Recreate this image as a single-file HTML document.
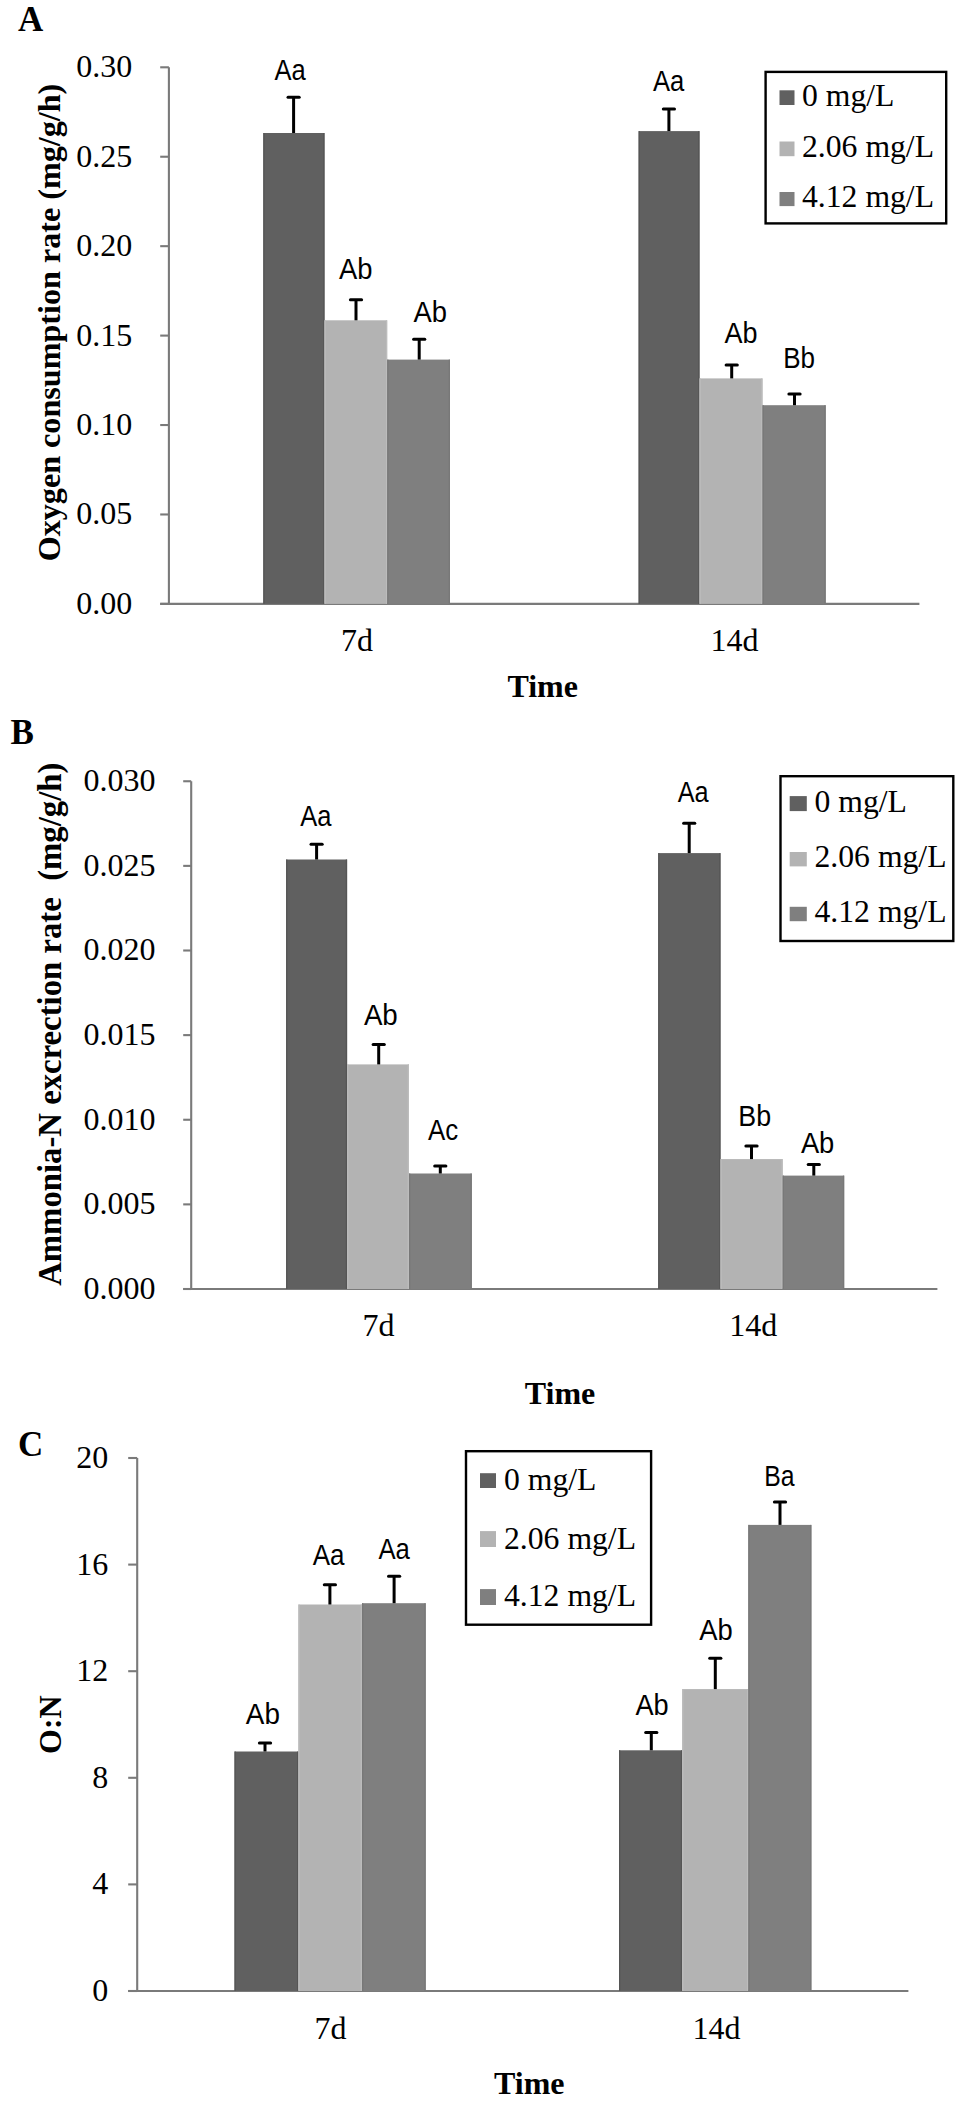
<!DOCTYPE html>
<html><head><meta charset="utf-8"><title>Figure</title>
<style>
html,body{margin:0;padding:0;background:#fff;width:968px;height:2107px;overflow:hidden}
svg{display:block}
.tk{font-family:'Liberation Serif',serif;font-size:32px;fill:#000}
.lg{font-family:'Liberation Serif',serif;font-size:31.7px;fill:#000}
.pl{font-family:'Liberation Serif',serif;font-size:35px;font-weight:bold;fill:#000}
.bd{font-family:'Liberation Serif',serif;font-size:32px;font-weight:bold;fill:#000}
.lt{font-family:'Liberation Sans',sans-serif;font-size:29.5px;fill:#000}
</style></head>
<body>
<svg width="968" height="2107" viewBox="0 0 968 2107">
<rect width="968" height="2107" fill="#fff"/>
<line x1="168.9" y1="67.3" x2="168.9" y2="603.9" stroke="#7a7a7a" stroke-width="2.1"/>
<line x1="160.2" y1="67.30" x2="168.9" y2="67.30" stroke="#7a7a7a" stroke-width="2.1"/>
<text x="132.3" y="77.20" text-anchor="end" class="tk">0.30</text>
<line x1="160.2" y1="156.73" x2="168.9" y2="156.73" stroke="#7a7a7a" stroke-width="2.1"/>
<text x="132.3" y="166.63" text-anchor="end" class="tk">0.25</text>
<line x1="160.2" y1="246.17" x2="168.9" y2="246.17" stroke="#7a7a7a" stroke-width="2.1"/>
<text x="132.3" y="256.07" text-anchor="end" class="tk">0.20</text>
<line x1="160.2" y1="335.60" x2="168.9" y2="335.60" stroke="#7a7a7a" stroke-width="2.1"/>
<text x="132.3" y="345.50" text-anchor="end" class="tk">0.15</text>
<line x1="160.2" y1="425.03" x2="168.9" y2="425.03" stroke="#7a7a7a" stroke-width="2.1"/>
<text x="132.3" y="434.93" text-anchor="end" class="tk">0.10</text>
<line x1="160.2" y1="514.47" x2="168.9" y2="514.47" stroke="#7a7a7a" stroke-width="2.1"/>
<text x="132.3" y="524.37" text-anchor="end" class="tk">0.05</text>
<line x1="160.2" y1="603.90" x2="168.9" y2="603.90" stroke="#7a7a7a" stroke-width="2.1"/>
<text x="132.3" y="613.80" text-anchor="end" class="tk">0.00</text>
<line x1="160.2" y1="603.9" x2="919.4" y2="603.9" stroke="#7a7a7a" stroke-width="2.1"/>
<rect x="263.3" y="133" width="61.20" height="470.90" fill="#606060"/>
<rect x="263.3" y="133" width="1.3" height="470.90" fill="#555555"/>
<rect x="323.20" y="133" width="1.3" height="470.90" fill="#555555"/>
<rect x="324.5" y="320.3" width="62.70" height="283.60" fill="#b3b3b3"/>
<rect x="324.5" y="320.3" width="1.3" height="283.60" fill="#bcbcbc"/>
<rect x="385.90" y="320.3" width="1.3" height="283.60" fill="#bcbcbc"/>
<rect x="387.2" y="359.6" width="62.80" height="244.30" fill="#7f7f7f"/>
<rect x="387.2" y="359.6" width="1.3" height="244.30" fill="#787878"/>
<rect x="448.70" y="359.6" width="1.3" height="244.30" fill="#787878"/>
<rect x="638.6" y="131.1" width="60.90" height="472.80" fill="#606060"/>
<rect x="638.6" y="131.1" width="1.3" height="472.80" fill="#555555"/>
<rect x="698.20" y="131.1" width="1.3" height="472.80" fill="#555555"/>
<rect x="699.5" y="378.4" width="63.00" height="225.50" fill="#b3b3b3"/>
<rect x="699.5" y="378.4" width="1.3" height="225.50" fill="#bcbcbc"/>
<rect x="761.20" y="378.4" width="1.3" height="225.50" fill="#bcbcbc"/>
<rect x="762.5" y="405.2" width="63.20" height="198.70" fill="#7f7f7f"/>
<rect x="762.5" y="405.2" width="1.3" height="198.70" fill="#787878"/>
<rect x="824.40" y="405.2" width="1.3" height="198.70" fill="#787878"/>
<line x1="293.6" y1="133" x2="293.6" y2="97.2" stroke="#000" stroke-width="3"/>
<line x1="288.00" y1="97.2" x2="299.20" y2="97.2" stroke="#000" stroke-width="3" stroke-linecap="round"/>
<line x1="356" y1="320.3" x2="356" y2="299.8" stroke="#000" stroke-width="3"/>
<line x1="350.40" y1="299.8" x2="361.60" y2="299.8" stroke="#000" stroke-width="3" stroke-linecap="round"/>
<line x1="419.2" y1="359.6" x2="419.2" y2="339.2" stroke="#000" stroke-width="3"/>
<line x1="413.60" y1="339.2" x2="424.80" y2="339.2" stroke="#000" stroke-width="3" stroke-linecap="round"/>
<line x1="668.9" y1="131.1" x2="668.9" y2="109.10000000000001" stroke="#000" stroke-width="3"/>
<line x1="663.30" y1="109.10000000000001" x2="674.50" y2="109.10000000000001" stroke="#000" stroke-width="3" stroke-linecap="round"/>
<line x1="731.7" y1="378.4" x2="731.7" y2="365.0" stroke="#000" stroke-width="3"/>
<line x1="726.10" y1="365.0" x2="737.30" y2="365.0" stroke="#000" stroke-width="3" stroke-linecap="round"/>
<line x1="794.5" y1="405.2" x2="794.5" y2="393.9" stroke="#000" stroke-width="3"/>
<line x1="788.90" y1="393.9" x2="800.10" y2="393.9" stroke="#000" stroke-width="3" stroke-linecap="round"/>
<text x="274.5" y="80" class="lt" textLength="31.2" lengthAdjust="spacingAndGlyphs">Aa</text>
<text x="339" y="279" class="lt" textLength="33.5" lengthAdjust="spacingAndGlyphs">Ab</text>
<text x="413.4" y="321.8" class="lt" textLength="33.5" lengthAdjust="spacingAndGlyphs">Ab</text>
<text x="653" y="91.1" class="lt" textLength="31.3" lengthAdjust="spacingAndGlyphs">Aa</text>
<text x="724.5" y="342.7" class="lt" textLength="33.0" lengthAdjust="spacingAndGlyphs">Ab</text>
<text x="783.2" y="367.5" class="lt" textLength="31.8" lengthAdjust="spacingAndGlyphs">Bb</text>
<rect x="765.60" y="71.90" width="180.60" height="151.50" fill="none" stroke="#000" stroke-width="2.4"/>
<rect x="779.5" y="90.3" width="15.00" height="14.70" fill="#606060"/>
<text x="802" y="106.3" class="lg">0 mg/L</text>
<rect x="779.5" y="141.5" width="15.00" height="14.70" fill="#b3b3b3"/>
<text x="802" y="157.4" class="lg">2.06 mg/L</text>
<rect x="779.5" y="192" width="15.00" height="14.10" fill="#7f7f7f"/>
<text x="802" y="207.3" class="lg">4.12 mg/L</text>
<text x="357" y="651" text-anchor="middle" class="tk">7d</text>
<text x="734.4" y="651.2" text-anchor="middle" class="tk">14d</text>
<text x="542.7" y="697.2" text-anchor="middle" class="bd">Time</text>
<text transform="translate(60,322.5) rotate(-90)" text-anchor="middle" class="bd" style="white-space:pre;font-size:32.15px">Oxygen consumption rate (mg/g/h)</text>
<text x="18" y="31" class="pl">A</text>
<line x1="191.2" y1="781.25" x2="191.2" y2="1289.0" stroke="#7a7a7a" stroke-width="2.1"/>
<line x1="183.2" y1="781.25" x2="191.2" y2="781.25" stroke="#7a7a7a" stroke-width="2.1"/>
<text x="155.5" y="791.15" text-anchor="end" class="tk">0.030</text>
<line x1="183.2" y1="865.88" x2="191.2" y2="865.88" stroke="#7a7a7a" stroke-width="2.1"/>
<text x="155.5" y="875.77" text-anchor="end" class="tk">0.025</text>
<line x1="183.2" y1="950.50" x2="191.2" y2="950.50" stroke="#7a7a7a" stroke-width="2.1"/>
<text x="155.5" y="960.40" text-anchor="end" class="tk">0.020</text>
<line x1="183.2" y1="1035.12" x2="191.2" y2="1035.12" stroke="#7a7a7a" stroke-width="2.1"/>
<text x="155.5" y="1045.03" text-anchor="end" class="tk">0.015</text>
<line x1="183.2" y1="1119.75" x2="191.2" y2="1119.75" stroke="#7a7a7a" stroke-width="2.1"/>
<text x="155.5" y="1129.65" text-anchor="end" class="tk">0.010</text>
<line x1="183.2" y1="1204.38" x2="191.2" y2="1204.38" stroke="#7a7a7a" stroke-width="2.1"/>
<text x="155.5" y="1214.28" text-anchor="end" class="tk">0.005</text>
<line x1="183.2" y1="1289.00" x2="191.2" y2="1289.00" stroke="#7a7a7a" stroke-width="2.1"/>
<text x="155.5" y="1298.90" text-anchor="end" class="tk">0.000</text>
<line x1="183.2" y1="1289.0" x2="937.4" y2="1289.0" stroke="#7a7a7a" stroke-width="2.1"/>
<rect x="286.1" y="859.5" width="61.00" height="429.50" fill="#606060"/>
<rect x="286.1" y="859.5" width="1.3" height="429.50" fill="#555555"/>
<rect x="345.80" y="859.5" width="1.3" height="429.50" fill="#555555"/>
<rect x="347.1" y="1064.4" width="61.90" height="224.60" fill="#b3b3b3"/>
<rect x="347.1" y="1064.4" width="1.3" height="224.60" fill="#bcbcbc"/>
<rect x="407.70" y="1064.4" width="1.3" height="224.60" fill="#bcbcbc"/>
<rect x="409" y="1173.5" width="62.80" height="115.50" fill="#7f7f7f"/>
<rect x="409" y="1173.5" width="1.3" height="115.50" fill="#787878"/>
<rect x="470.50" y="1173.5" width="1.3" height="115.50" fill="#787878"/>
<rect x="658.2" y="853.1" width="62.30" height="435.90" fill="#606060"/>
<rect x="658.2" y="853.1" width="1.3" height="435.90" fill="#555555"/>
<rect x="719.20" y="853.1" width="1.3" height="435.90" fill="#555555"/>
<rect x="720.5" y="1159.1" width="62.20" height="129.90" fill="#b3b3b3"/>
<rect x="720.5" y="1159.1" width="1.3" height="129.90" fill="#bcbcbc"/>
<rect x="781.40" y="1159.1" width="1.3" height="129.90" fill="#bcbcbc"/>
<rect x="782.7" y="1175.6" width="61.50" height="113.40" fill="#7f7f7f"/>
<rect x="782.7" y="1175.6" width="1.3" height="113.40" fill="#787878"/>
<rect x="842.90" y="1175.6" width="1.3" height="113.40" fill="#787878"/>
<line x1="316.6" y1="859.5" x2="316.6" y2="844.3000000000001" stroke="#000" stroke-width="3"/>
<line x1="311.00" y1="844.3000000000001" x2="322.20" y2="844.3000000000001" stroke="#000" stroke-width="3" stroke-linecap="round"/>
<line x1="378.7" y1="1064.4" x2="378.7" y2="1044.4" stroke="#000" stroke-width="3"/>
<line x1="373.10" y1="1044.4" x2="384.30" y2="1044.4" stroke="#000" stroke-width="3" stroke-linecap="round"/>
<line x1="440.3" y1="1173.5" x2="440.3" y2="1165.9" stroke="#000" stroke-width="3"/>
<line x1="434.70" y1="1165.9" x2="445.90" y2="1165.9" stroke="#000" stroke-width="3" stroke-linecap="round"/>
<line x1="689.2" y1="853.1" x2="689.2" y2="823.3000000000001" stroke="#000" stroke-width="3"/>
<line x1="683.60" y1="823.3000000000001" x2="694.80" y2="823.3000000000001" stroke="#000" stroke-width="3" stroke-linecap="round"/>
<line x1="751.5" y1="1159.1" x2="751.5" y2="1145.9" stroke="#000" stroke-width="3"/>
<line x1="745.90" y1="1145.9" x2="757.10" y2="1145.9" stroke="#000" stroke-width="3" stroke-linecap="round"/>
<line x1="813.8" y1="1175.6" x2="813.8" y2="1164.4" stroke="#000" stroke-width="3"/>
<line x1="808.20" y1="1164.4" x2="819.40" y2="1164.4" stroke="#000" stroke-width="3" stroke-linecap="round"/>
<text x="300.2" y="826.1" class="lt" textLength="31.2" lengthAdjust="spacingAndGlyphs">Aa</text>
<text x="363.9" y="1025.2" class="lt" textLength="33.9" lengthAdjust="spacingAndGlyphs">Ab</text>
<text x="427.9" y="1140.4" class="lt" textLength="30.2" lengthAdjust="spacingAndGlyphs">Ac</text>
<text x="677.7" y="802.2" class="lt" textLength="30.9" lengthAdjust="spacingAndGlyphs">Aa</text>
<text x="738.3" y="1125.5" class="lt" textLength="32.8" lengthAdjust="spacingAndGlyphs">Bb</text>
<text x="800.9" y="1152.6" class="lt" textLength="33.4" lengthAdjust="spacingAndGlyphs">Ab</text>
<rect x="780.50" y="776.20" width="172.80" height="164.80" fill="none" stroke="#000" stroke-width="2.4"/>
<rect x="789.7" y="796.1" width="17.10" height="15.00" fill="#606060"/>
<text x="814.5" y="812" class="lg">0 mg/L</text>
<rect x="789.7" y="852" width="17.10" height="14.40" fill="#b3b3b3"/>
<text x="814.5" y="867" class="lg">2.06 mg/L</text>
<rect x="789.7" y="906.8" width="17.10" height="14.40" fill="#7f7f7f"/>
<text x="814.5" y="921.6" class="lg">4.12 mg/L</text>
<text x="378.5" y="1335.6" text-anchor="middle" class="tk">7d</text>
<text x="753.3" y="1336" text-anchor="middle" class="tk">14d</text>
<text x="560" y="1404" text-anchor="middle" class="bd">Time</text>
<text transform="translate(60.5,1024.2) rotate(-90)" text-anchor="middle" class="bd" style="white-space:pre;font-size:32.75px">Ammonia-N excrection rate  (mg/g/h)</text>
<text x="10.5" y="744" class="pl">B</text>
<line x1="137.2" y1="1458" x2="137.2" y2="1991.0" stroke="#7a7a7a" stroke-width="2.1"/>
<line x1="128.2" y1="1458.00" x2="137.2" y2="1458.00" stroke="#7a7a7a" stroke-width="2.1"/>
<text x="108.3" y="1467.90" text-anchor="end" class="tk">20</text>
<line x1="128.2" y1="1564.60" x2="137.2" y2="1564.60" stroke="#7a7a7a" stroke-width="2.1"/>
<text x="108.3" y="1574.50" text-anchor="end" class="tk">16</text>
<line x1="128.2" y1="1671.20" x2="137.2" y2="1671.20" stroke="#7a7a7a" stroke-width="2.1"/>
<text x="108.3" y="1681.10" text-anchor="end" class="tk">12</text>
<line x1="128.2" y1="1777.80" x2="137.2" y2="1777.80" stroke="#7a7a7a" stroke-width="2.1"/>
<text x="108.3" y="1787.70" text-anchor="end" class="tk">8</text>
<line x1="128.2" y1="1884.40" x2="137.2" y2="1884.40" stroke="#7a7a7a" stroke-width="2.1"/>
<text x="108.3" y="1894.30" text-anchor="end" class="tk">4</text>
<line x1="128.2" y1="1991.00" x2="137.2" y2="1991.00" stroke="#7a7a7a" stroke-width="2.1"/>
<text x="108.3" y="2000.90" text-anchor="end" class="tk">0</text>
<line x1="128.2" y1="1991.0" x2="908.4" y2="1991.0" stroke="#7a7a7a" stroke-width="2.1"/>
<rect x="234.5" y="1751.5" width="63.90" height="239.50" fill="#606060"/>
<rect x="234.5" y="1751.5" width="1.3" height="239.50" fill="#555555"/>
<rect x="297.10" y="1751.5" width="1.3" height="239.50" fill="#555555"/>
<rect x="298.4" y="1604.5" width="63.60" height="386.50" fill="#b3b3b3"/>
<rect x="298.4" y="1604.5" width="1.3" height="386.50" fill="#bcbcbc"/>
<rect x="360.70" y="1604.5" width="1.3" height="386.50" fill="#bcbcbc"/>
<rect x="362" y="1603.2" width="63.70" height="387.80" fill="#7f7f7f"/>
<rect x="362" y="1603.2" width="1.3" height="387.80" fill="#787878"/>
<rect x="424.40" y="1603.2" width="1.3" height="387.80" fill="#787878"/>
<rect x="619" y="1750.3" width="63.20" height="240.70" fill="#606060"/>
<rect x="619" y="1750.3" width="1.3" height="240.70" fill="#555555"/>
<rect x="680.90" y="1750.3" width="1.3" height="240.70" fill="#555555"/>
<rect x="682.2" y="1689.1" width="66.10" height="301.90" fill="#b3b3b3"/>
<rect x="682.2" y="1689.1" width="1.3" height="301.90" fill="#bcbcbc"/>
<rect x="747.00" y="1689.1" width="1.3" height="301.90" fill="#bcbcbc"/>
<rect x="748.3" y="1524.9" width="63.10" height="466.10" fill="#7f7f7f"/>
<rect x="748.3" y="1524.9" width="1.3" height="466.10" fill="#787878"/>
<rect x="810.10" y="1524.9" width="1.3" height="466.10" fill="#787878"/>
<line x1="265" y1="1751.5" x2="265" y2="1742.9" stroke="#000" stroke-width="3"/>
<line x1="259.40" y1="1742.9" x2="270.60" y2="1742.9" stroke="#000" stroke-width="3" stroke-linecap="round"/>
<line x1="329.9" y1="1604.5" x2="329.9" y2="1584.8" stroke="#000" stroke-width="3"/>
<line x1="324.30" y1="1584.8" x2="335.50" y2="1584.8" stroke="#000" stroke-width="3" stroke-linecap="round"/>
<line x1="394.1" y1="1603.2" x2="394.1" y2="1576.2" stroke="#000" stroke-width="3"/>
<line x1="388.50" y1="1576.2" x2="399.70" y2="1576.2" stroke="#000" stroke-width="3" stroke-linecap="round"/>
<line x1="651.3" y1="1750.3" x2="651.3" y2="1732.4" stroke="#000" stroke-width="3"/>
<line x1="645.70" y1="1732.4" x2="656.90" y2="1732.4" stroke="#000" stroke-width="3" stroke-linecap="round"/>
<line x1="715.3" y1="1689.1" x2="715.3" y2="1658.3" stroke="#000" stroke-width="3"/>
<line x1="709.70" y1="1658.3" x2="720.90" y2="1658.3" stroke="#000" stroke-width="3" stroke-linecap="round"/>
<line x1="780" y1="1524.9" x2="780" y2="1502.0" stroke="#000" stroke-width="3"/>
<line x1="774.40" y1="1502.0" x2="785.60" y2="1502.0" stroke="#000" stroke-width="3" stroke-linecap="round"/>
<text x="245.8" y="1723.6" class="lt" textLength="34.1" lengthAdjust="spacingAndGlyphs">Ab</text>
<text x="312.7" y="1564.5" class="lt" textLength="31.8" lengthAdjust="spacingAndGlyphs">Aa</text>
<text x="378.4" y="1558.9" class="lt" textLength="31.4" lengthAdjust="spacingAndGlyphs">Aa</text>
<text x="635.5" y="1715.1" class="lt" textLength="33.2" lengthAdjust="spacingAndGlyphs">Ab</text>
<text x="699.2" y="1640" class="lt" textLength="33.5" lengthAdjust="spacingAndGlyphs">Ab</text>
<text x="764.2" y="1486.1" class="lt" textLength="30.3" lengthAdjust="spacingAndGlyphs">Ba</text>
<rect x="466.00" y="1451.20" width="185.10" height="173.50" fill="none" stroke="#000" stroke-width="2.4"/>
<rect x="480" y="1473.2" width="16.00" height="14.80" fill="#606060"/>
<text x="504" y="1490.2" class="lg">0 mg/L</text>
<rect x="480" y="1531.1" width="16.00" height="15.90" fill="#b3b3b3"/>
<text x="504" y="1548.6" class="lg">2.06 mg/L</text>
<rect x="480" y="1589.1" width="16.00" height="15.90" fill="#7f7f7f"/>
<text x="504" y="1606.1" class="lg">4.12 mg/L</text>
<text x="330.4" y="2039" text-anchor="middle" class="tk">7d</text>
<text x="716.5" y="2039" text-anchor="middle" class="tk">14d</text>
<text x="529.3" y="2093.6" text-anchor="middle" class="bd">Time</text>
<text transform="translate(61,1724.6) rotate(-90)" text-anchor="middle" class="bd" style="white-space:pre;font-size:32px">O:N</text>
<text x="18" y="1456.3" class="pl">C</text>
</svg>
</body></html>
